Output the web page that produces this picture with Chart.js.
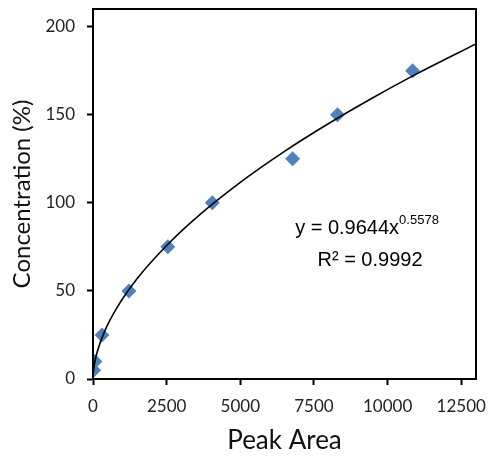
<!DOCTYPE html>
<html>
<head>
<meta charset="utf-8">
<script src="https://cdn.jsdelivr.net/npm/chart.js@4/dist/chart.umd.min.js"></script>
<style>
  html, body { margin: 0; padding: 0; background: #fff; }
  #wrap { width: 491px; height: 457px; }
</style>
</head>
<body>
<div id="wrap"><canvas id="calChart" width="491" height="457"></canvas></div>
<script>
// Datos medidos (área de pico vs concentración)
const peakArea = [20, 65, 305, 1220, 2540, 4050, 6775, 8300, 10850];
const concentration = [5, 10, 25, 50, 75, 100, 125, 150, 175];

// Curva de tendencia
const fitX = [10, 50, 150, 400, 800, 1500, 2500, 3500, 5000, 6500, 8000, 9500, 11000, 13000];
const fitY = [3.5, 8.6, 15.8, 27.3, 40.1, 57.0, 75.8, 91.5, 111.6, 129.2, 145.0, 159.6, 173.3, 190.2];

const xTicks = [0, 2500, 5000, 7500, 10000, 12500];
const yTicks = [0, 50, 100, 150, 200];

const equationText = ['y = 0.9644x', '0.5578', 'R² = 0.9992'];

// Marco alrededor del área del gráfico y texto de la ecuación
const framePlugin = {
    id: 'frame',
    afterDraw(chart) {
        const ctx = chart.ctx;
        const a = chart.chartArea;
        ctx.save();
        ctx.strokeStyle = '#000';
        ctx.lineWidth = 2;
        ctx.strokeRect(a.left, a.top, a.right - a.left, a.bottom - a.top);

        // ecuación
        ctx.fillStyle = '#000';
        ctx.textBaseline = 'alphabetic';
        const bigFont = '20px "Liberation Sans", Arial, sans-serif';
        const supFont = '13px "Liberation Sans", Arial, sans-serif';
        ctx.font = bigFont;
        const mainW = ctx.measureText(equationText[0]).width;
        ctx.font = supFont;
        const supW = ctx.measureText(equationText[1]).width;
        const cx = 367;
        const startX = cx - (mainW + supW) / 2;
        ctx.font = bigFont;
        ctx.textAlign = 'left';
        ctx.fillText(equationText[0], startX, 234);
        ctx.font = supFont;
        ctx.fillText(equationText[1], startX + mainW, 224);
        ctx.font = bigFont;
        ctx.textAlign = 'center';
        ctx.fillText(equationText[2], 370, 266);
        ctx.restore();
    }
};

function drawChart() {
    const ctx = document.getElementById('calChart').getContext('2d');
    new Chart(ctx, {
        type: 'scatter',
        data: {
            datasets: [{
                label: 'Datos',
                data: peakArea.map((x, i) => ({ x: x, y: concentration[i] })),
                pointStyle: 'rectRot',
                pointRadius: 7.5,
                pointHoverRadius: 7.5,
                backgroundColor: '#4F81BD',
                borderColor: '#4F81BD',
                borderWidth: 0,
                order: 2
            }, {
                label: 'Ajuste',
                type: 'line',
                data: fitX.map((x, i) => ({ x: x, y: fitY[i] })),
                borderColor: '#000',
                borderWidth: 1.6,
                pointRadius: 0,
                fill: false,
                cubicInterpolationMode: 'monotone',
                order: 1
            }]
        },
        options: {
            responsive: false,
            animation: false,
            layout: { padding: { top: 9, right: 15, left: 0, bottom: 0 } },
            plugins: {
                legend: { display: false },
                tooltip: { enabled: false }
            },
            scales: {
                x: {
                    type: 'linear',
                    min: 0,
                    max: 13000,
                    afterBuildTicks: (scale) => {
                        scale.ticks = xTicks.map(v => ({ value: v }));
                    },
                    afterFit: (scale) => {
                        scale.height = 78;
                        scale.paddingLeft = 0;
                        scale.paddingRight = 0;
                    },
                    grid: {
                        drawOnChartArea: false,
                        drawTicks: true,
                        tickLength: 6,
                        tickColor: '#000',
                        tickWidth: 2
                    },
                    border: { color: '#000', width: 2 },
                    ticks: {
                        color: '#222',
                        padding: 11,
                        maxRotation: 0,
                        callback: (v) => String(v),
                        font: { family: 'Lato', size: 17 }
                    },
                    title: {
                        display: true,
                        text: 'Peak Area',
                        color: '#111',
                        padding: { top: 0, bottom: 1 },
                        font: { family: 'Lato', size: 26 }
                    }
                },
                y: {
                    type: 'linear',
                    min: 0,
                    max: 210,
                    afterBuildTicks: (scale) => {
                        scale.ticks = yTicks.map(v => ({ value: v }));
                    },
                    afterFit: (scale) => {
                        scale.width = 93;
                        scale.paddingTop = 0;
                        scale.paddingBottom = 0;
                    },
                    grid: {
                        drawOnChartArea: false,
                        drawTicks: true,
                        tickLength: 6,
                        tickColor: '#000',
                        tickWidth: 2
                    },
                    border: { color: '#000', width: 2 },
                    ticks: {
                        color: '#222',
                        padding: 12,
                        callback: (v) => String(v),
                        font: { family: 'Lato', size: 17 }
                    },
                    title: {
                        display: true,
                        text: 'Concentration (%)',
                        color: '#111',
                        padding: { top: 8, bottom: 0 },
                        font: { family: 'Lato', size: 24 }
                    }
                }
            }
        },
        plugins: [framePlugin]
    });
}

document.addEventListener('DOMContentLoaded', () => {
    drawChart();
});
</script>
</body>
</html>
